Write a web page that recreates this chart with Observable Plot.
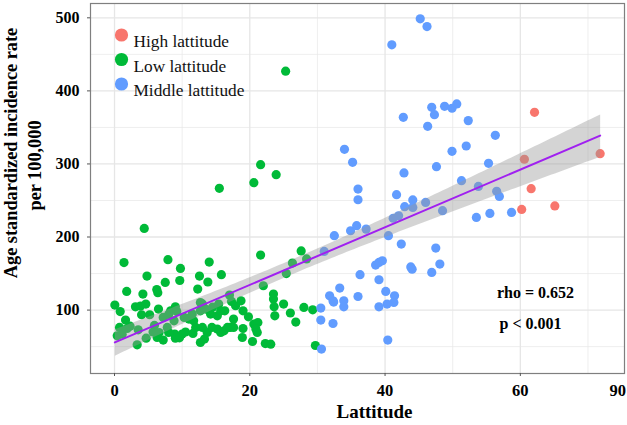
<!DOCTYPE html>
<html>
<head>
<meta charset="utf-8">
<script src="https://cdn.jsdelivr.net/npm/d3@7"></script>
<script src="https://cdn.jsdelivr.net/npm/@observablehq/plot@0.6"></script>
<style>
  html, body { margin: 0; padding: 0; background: #fff; }
  #chart svg { display: block; }
</style>
</head>
<body>
<div id="chart"></div>
<script>
// ---------- data ----------
const groups = ["High lattitude", "Low lattitude", "Middle lattitude"];
const groupColors = ["#F8766D", "#00BA38", "#619CFF"];

const highLat  = [62.1, 71.8, 60.6, 61.6, 60.2, 65.1];
const highRate = [370.7, 314.1, 306.4, 266.2, 237.8, 242.5];

const midLat = [45.2, 46.2, 41.0, 46.9, 47.3, 48.8, 49.9, 50.6, 42.7, 46.3, 52.3, 56.3, 34.0, 35.2, 49.9, 52.0, 55.3, 47.6, 42.8, 51.3,
  53.8, 56.5, 56.9, 36.0, 36.0, 41.7, 44.1, 42.9, 44.1, 46.0, 48.5, 53.5, 55.5, 58.7, 41.2, 42.0, 32.5, 34.9, 35.8, 37.2,
  31.0, 40.5, 42.4, 47.5, 48.1, 46.9, 44.0, 43.8, 38.6, 39.1, 39.6, 36.3, 39.1, 33.3, 31.8, 32.3, 32.4, 33.9, 33.9, 36.0,
  40.1, 41.4, 41.3, 40.3, 39.1, 30.5, 30.5, 32.3, 40.4, 30.6];
const midRate = [498.6, 488, 463, 377.5, 367.5, 378.9, 376.2, 382.2, 363.8, 351.5, 359.3, 339.2, 320, 302.2, 317.3, 324.6, 300.8, 296.3, 287.7, 277.1,
  269.3, 262.5, 255.6, 265.6, 251, 257.9, 250.7, 241.5, 240.5, 247.4, 236, 226.8, 232.3, 233.7, 225.7, 229, 201.8, 208.6, 215.5, 210.8,
  180.3, 201.8, 190.4, 184.9, 163, 151.5, 156, 159, 161.6, 165.2, 167.5, 148.4, 141.5, 130.1, 119.6, 112.7, 111, 112.7, 104.5, 118.6,
  125.5, 119.6, 110.4, 108.2, 104.5, 102.7, 86.3, 81.6, 58.9, 46.6];

const lowLat = [25.3, 21.6, 20.6, 23.9, 15.5, 4.4, 21.6, 27.6, 28.4, 26.3, 25.4, 22.0, 1.4, 7.9, 9.75, 14.0, 4.8, 7.5, 9.65, 12.56,
  13.8, 15.8, 1.8, 4.2, 6.25, 6.4, 12.3, 0.05, 0.84, 3.1, 3.84, 4.63, 4.0, 5.2, 1.63, 0.74, 1.87, 0.4, 1.13, 3.35,
  4.68, 6.5, 7.2, 8.0, 8.3, 9.0, 9.2, 8.8, 7.8, 8.0, 6.6, 6.3, 7.2, 8.9, 9.0, 10.0, 9.6, 11.0, 11.5, 11.2,
  11.7, 12.0, 11.6, 12.7, 12.7, 13.0, 13.45, 13.7, 13.3, 12.7, 13.0, 14.2, 14.4, 15.2, 15.2, 15.4, 14.5, 15.7, 15.7, 16.2,
  16.7, 17.1, 16.3, 17.0, 17.3, 17.6, 17.9, 18.7, 19.0, 19.8, 21.2, 20.6, 20.9, 21.1, 19.0, 18.9, 20.4, 22.3, 23.1, 17.6,
  23.5, 23.5, 23.6, 23.7, 25.0, 26.0, 26.8, 28.0, 29.3, 29.7, 10.5, 5.7, 2.3, 3.5, 10.3, 5.9];
const lowRate = [427, 299, 274.4, 285.3, 266.6, 211.8, 175.3, 181, 170, 164.4, 150, 133.3, 165, 169, 157, 165.7, 146.6, 137.8, 140.5, 146.6,
  138.4, 148.4, 125.5, 121.9, 128.2, 123.7, 128.8, 106.8, 98, 104.5, 105.5, 108.2, 93.6, 93.6, 86.3, 76.2, 74.8, 64.8, 67, 52.5,
  61.6, 101.4, 89.9, 94, 99, 104.5, 98, 85.3, 76.2, 69.3, 69.3, 62.5, 58.9, 67.1, 61.6, 67.1, 62, 87.7, 94.5, 89.9,
  85.3, 76.2, 68, 99, 110.4, 108.2, 101.4, 69.3, 60.3, 55.6, 76.2, 94.5, 76.2, 74, 92.2, 108.2, 104, 99, 69.3, 71.6,
  76.2, 76.2, 99, 120.5, 111.8, 87.7, 105.9, 112.7, 99, 90.8, 83, 80.8, 74, 69.3, 74.8, 62.5, 57, 54.2, 53.4, 76.2,
  121.9, 115, 104.5, 92.2, 108.2, 96, 83.6, 103.6, 100.4, 51.5, 70, 70, 78, 73, 90, 79];

const xMajor = [0, 20, 40, 60];
const xMinor = [10, 30, 50, 70];
const yMajor = [100, 200, 300, 400, 500];
const yMinor = [50, 150, 250, 350, 450];
const extraTickPos = 74.4;   // the reference prints "90" here
const extraTickLabel = "90";
const yTitle = ["Age standardized incidence rate", "per 100,000"];
const xTitle = "Lattitude";
const statText = ["rho = 0.652", "p < 0.001"];

// ---------- table ----------
const rows = [];
highLat.forEach((v, i) => rows.push({lat: v, rate: highRate[i], group: groups[0]}));
lowLat.forEach((v, i) => rows.push({lat: v, rate: lowRate[i], group: groups[1]}));
midLat.forEach((v, i) => rows.push({lat: v, rate: midRate[i], group: groups[2]}));

const serif = "'Liberation Serif', 'Times New Roman', serif";
const gridColor = "#e6e6e6";

const legendMarks = groups.flatMap((g, i) => [
  Plot.dot([g], {frameAnchor: "top-left", dx: 31, dy: 31.5 + i * 24.5, r: 6.6, fill: groupColors[i]}),
  Plot.text([g], {frameAnchor: "top-left", dx: 43, dy: 31.5 + i * 24.5, text: d => d, textAnchor: "start",
    fontSize: 17.3, fill: "#111"})
]);

const chart = Plot.plot({
  width: 627,
  height: 425,
  marginLeft: 90,
  marginRight: 3,
  marginTop: 3,
  marginBottom: 52,
  style: {fontFamily: serif, background: "#fff", color: "#000"},
  x: {domain: [-3.55, 75.4]},
  y: {domain: [13.2, 519.6]},
  color: {domain: groups, range: groupColors},
  marks: [
    Plot.gridX(xMinor, {stroke: gridColor, strokeOpacity: 1, strokeWidth: 0.7}),
    Plot.gridY(yMinor, {stroke: gridColor, strokeOpacity: 1, strokeWidth: 0.7}),
    Plot.gridX(xMajor, {stroke: gridColor, strokeOpacity: 1, strokeWidth: 1.3}),
    Plot.gridY(yMajor, {stroke: gridColor, strokeOpacity: 1, strokeWidth: 1.3}),
    Plot.dot(rows, {x: "lat", y: "rate", fill: "group", r: 4.6}),
    Plot.linearRegressionY(rows, {x: "lat", y: "rate", stroke: "#A020F0", strokeWidth: 2,
      fill: "#999999", fillOpacity: 0.42}),
    Plot.frame({stroke: "#7f7f7f", strokeWidth: 1.2}),
    Plot.axisY({ticks: yMajor, tickSize: 3, tickPadding: 8, label: null, fontSize: 16, fontWeight: "bold",
      stroke: "#555"}),
    Plot.axisX({ticks: xMajor, tickSize: 3, tickPadding: 8, label: null, fontSize: 16.5, fontWeight: "bold",
      stroke: "#555"}),
    Plot.axisX({ticks: [extraTickPos], tickSize: 0, tickPadding: 11, label: null, fontSize: 16.5, fontWeight: "bold",
      tickFormat: () => extraTickLabel}),
    Plot.text([xTitle], {frameAnchor: "bottom", dx: 17, dy: 44, text: d => d, fontSize: 19,
      fontWeight: "bold", fill: "#000"}),
    Plot.text([yTitle[0]], {frameAnchor: "left", dx: -79, dy: -35.5, rotate: -90,
      textAnchor: "middle", lineAnchor: "middle",
      text: d => d, fontSize: 18.3, fontWeight: "bold", fill: "#000"}),
    Plot.text([yTitle[1]], {frameAnchor: "left", dx: -55, dy: -23, rotate: -90,
      textAnchor: "middle", lineAnchor: "middle",
      text: d => d, fontSize: 18.3, fontWeight: "bold", fill: "#000"}),
    Plot.text([statText[0]], {frameAnchor: "bottom-right", dx: -89, dy: -76, text: d => d, fontSize: 16,
      textAnchor: "middle", fontWeight: "bold", fill: "#000"}),
    Plot.text([statText[1]], {frameAnchor: "bottom-right", dx: -94, dy: -45, text: d => d, fontSize: 16,
      textAnchor: "middle", fontWeight: "bold", fill: "#000"}),
    ...legendMarks
  ]
});
document.getElementById("chart").appendChild(chart);
</script>
</body>
</html>
